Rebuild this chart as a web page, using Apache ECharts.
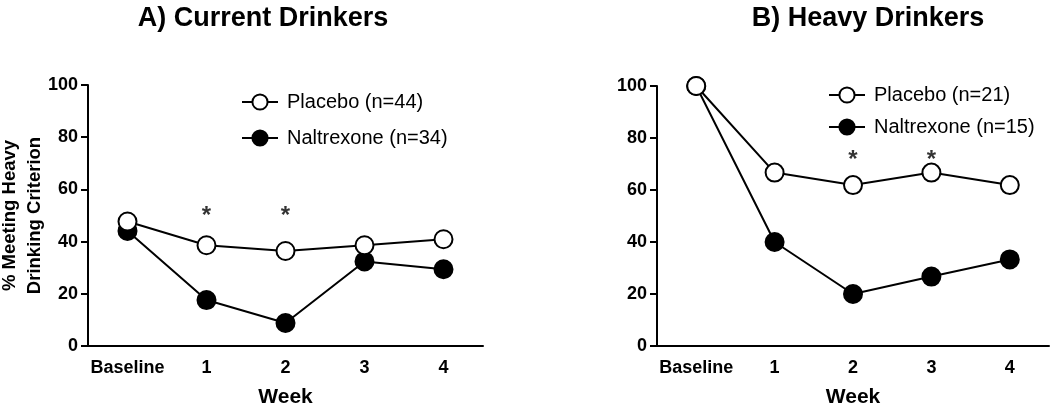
<!DOCTYPE html>
<html>
<head>
<meta charset="utf-8">
<script src="https://cdn.jsdelivr.net/npm/echarts@6/dist/echarts.min.js"></script>
<style>
  html, body { margin: 0; padding: 0; background: #fff; }
  #chart { width: 1050px; height: 405px; }
</style>
</head>
<body>
<div id="chart"></div>
<script>
const weeks = ['Baseline', '1', '2', '3', '4']

// A) current drinkers
const placeboA = [47.7, 38.6, 36.4, 38.6, 40.9]
const naltrexoneA = [44.1, 17.6, 8.8, 32.4, 29.4]
const starsA = [['1', 51.5], ['2', 51.5]]

// B) heavy drinkers
const placeboB = [100, 66.7, 61.9, 66.7, 61.9]
const naltrexoneB = [100, 40, 20, 26.7, 33.3]
const starsB = [['2', 73.5], ['3', 73.5]]

const yTicks = [0, 20, 40, 60, 80, 100]

const font = 'Liberation Sans, Arial, sans-serif'
const black = '#000'

const xAxisBase = (grid, label) => ({
  type: 'category',
  gridIndex: grid,
  data: weeks,
  boundaryGap: true,
  name: label,
  nameLocation: 'middle',
  nameGap: 41,
  nameMoveOverlap: false,
  nameTextStyle: { fontFamily: font, fontWeight: 'bold', fontSize: 21, color: black },
  axisLine: { lineStyle: { color: black, width: 2 } },
  axisTick: { alignWithLabel: true, length: 7, lineStyle: { color: black, width: 2 } },
  axisLabel: { interval: 0, fontFamily: font, fontWeight: 'bold', fontSize: 18, color: black, margin: 13 },
  splitLine: { show: false }
})

const yAxisBase = (grid, name) => ({
  type: 'value',
  gridIndex: grid,
  min: yTicks[0],
  max: yTicks[yTicks.length - 1],
  interval: 20,
  name: name,
  nameLocation: 'middle',
  nameRotate: 90,
  nameGap: 41,
  nameMoveOverlap: false,
  nameTextStyle: { fontFamily: font, fontWeight: 'bold', fontSize: 18.5, color: black, lineHeight: 25 },
  axisLine: { show: true, lineStyle: { color: black, width: 2 } },
  axisTick: { show: true, length: 7, lineStyle: { color: black, width: 2 } },
  axisLabel: { fontFamily: font, fontWeight: 'bold', fontSize: 18, color: black, margin: 10 },
  splitLine: { show: false }
})

const lineSeries = (name, data, idx, filled) => ({
  name: name,
  type: 'line',
  xAxisIndex: idx,
  yAxisIndex: idx,
  data: data,
  symbol: 'circle',
  symbolSize: 18,
  z: filled ? 2 : 3,
  lineStyle: { color: black, width: 2 },
  itemStyle: { color: filled ? black : '#fff', borderColor: black, borderWidth: 2 },
  emphasis: { disabled: true }
})

const starSeries = (data, idx) => ({
  type: 'scatter',
  xAxisIndex: idx,
  yAxisIndex: idx,
  data: data,
  symbolSize: 0,
  silent: true,
  label: {
    show: true,
    position: 'inside',
    formatter: '*',
    fontFamily: font,
    fontWeight: 'bold',
    fontSize: 24,
    color: black,
    offset: [0, 5]
  }
})

const legendBase = (left, top, gap, names) => ({
  left: left,
  top: top,
  padding: 0,
  orient: 'vertical',
  itemWidth: 36,
  itemHeight: 19,
  itemGap: gap,
  data: names,
  textStyle: { fontFamily: font, fontSize: 20, color: black, padding: [0, 0, 0, 4] },
  selectedMode: false
})

let myChart = echarts.init(document.getElementById('chart'))
myChart.setOption({
  animation: false,
  backgroundColor: '#fff',
  title: [
    {
      text: 'A) Current Drinkers',
      left: 258,
      top: 0,
      textAlign: 'center',
      textStyle: { fontFamily: font, fontWeight: 'bold', fontSize: 27, color: black }
    },
    {
      text: 'B) Heavy Drinkers',
      left: 863,
      top: 0,
      textAlign: 'center',
      textStyle: { fontFamily: font, fontWeight: 'bold', fontSize: 27, color: black }
    }
  ],
  legend: [
    legendBase(241, 92, 16, ['Placebo (n=44)', 'Naltrexone (n=34)']),
    legendBase(828, 85, 12, ['Placebo (n=21)', 'Naltrexone (n=15)'])
  ],
  grid: [
    { left: 88, top: 85, width: 395, bottom: 59, outerBoundsMode: 'none' },
    { left: 657, top: 86, width: 392, bottom: 59, outerBoundsMode: 'none' }
  ],
  xAxis: [xAxisBase(0, 'Week'), xAxisBase(1, 'Week')],
  yAxis: [yAxisBase(0, '% Meeting Heavy\nDrinking Criterion'), yAxisBase(1, '')],
  series: [
    lineSeries('Naltrexone (n=34)', naltrexoneA, 0, true),
    lineSeries('Placebo (n=44)', placeboA, 0, false),
    starSeries(starsA, 0),
    lineSeries('Naltrexone (n=15)', naltrexoneB, 1, true),
    lineSeries('Placebo (n=21)', placeboB, 1, false),
    starSeries(starsB, 1)
  ]
})
</script>
</body>
</html>
